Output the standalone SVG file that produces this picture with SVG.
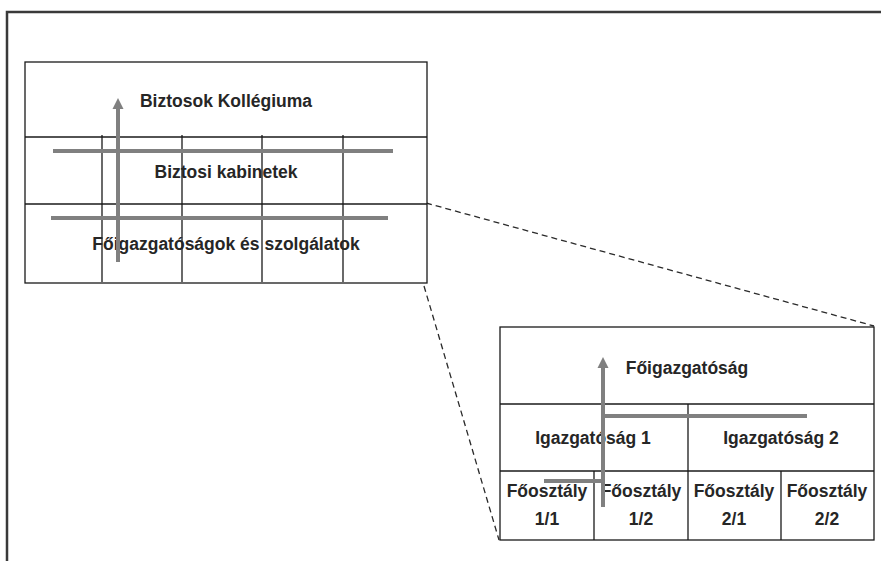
<svg xmlns="http://www.w3.org/2000/svg" width="881" height="561" viewBox="0 0 881 561">
  <defs>
    <marker id="arrow" markerUnits="userSpaceOnUse" markerWidth="12" markerHeight="12" viewBox="0 0 12 12" refX="0" refY="6" orient="auto">
      <path d="M0,0.5 L11,6 L0,11.5 z" fill="#808080"/>
    </marker>
    <style>
      .frame { fill: none; stroke: #3a3a3a; stroke-width: 2.5; }
      .box { fill: #ffffff; stroke: #1a1a1a; stroke-width: 1.3; }
      .grid { stroke: #1a1a1a; stroke-width: 1.3; fill: none; }
      .bar { stroke: #808080; stroke-width: 4; fill: none; }
      .dash { stroke: #2a2a2a; stroke-width: 1.3; stroke-dasharray: 6 4; fill: none; }
      .lbl { font-family: "Liberation Sans", Arial, sans-serif; font-weight: bold; font-size: 17.5px; fill: #262626; text-anchor: middle; }
    </style>
  </defs>

  <rect x="0" y="0" width="881" height="561" fill="#ffffff"/>
  <path class="frame" d="M7,561 V12 H881"/>

  <g id="connectors">
    <line class="dash" x1="426" y1="203" x2="874" y2="326"/>
    <line class="dash" x1="424" y1="286" x2="499" y2="540"/>
  </g>

  <g id="commission">
    <rect class="box" x="25" y="62" width="402" height="221"/>
    <line class="grid" x1="25" y1="137" x2="427" y2="137"/>
    <line class="grid" x1="25" y1="204" x2="427" y2="204"/>
    <line class="grid" x1="102" y1="135" x2="102" y2="282"/>
    <line class="grid" x1="182" y1="135" x2="182" y2="282"/>
    <line class="grid" x1="262" y1="135" x2="262" y2="282"/>
    <line class="grid" x1="343" y1="135" x2="343" y2="282"/>
    <g id="biztosok-kollegiuma">
      <text class="lbl" x="226" y="107">Biztosok Kollégiuma</text>
    </g>
    <g id="biztosi-kabinetek">
      <text class="lbl" x="226" y="178">Biztosi kabinetek</text>
    </g>
    <g id="foigazgatosagok">
      <text class="lbl" x="226" y="250">Főigazgatóságok és szolgálatok</text>
    </g>
    <line class="bar" x1="53" y1="151" x2="393" y2="151"/>
    <line class="bar" x1="51" y1="218" x2="388" y2="218"/>
    <line class="bar" x1="118" y1="262" x2="118" y2="109" marker-end="url(#arrow)"/>
  </g>

  <g id="directorate-general">
    <rect class="box" x="500" y="327" width="374" height="213"/>
    <line class="grid" x1="500" y1="404" x2="874" y2="404"/>
    <line class="grid" x1="500" y1="471" x2="874" y2="471"/>
    <line class="grid" x1="688" y1="404" x2="688" y2="540"/>
    <line class="grid" x1="594" y1="471" x2="594" y2="540"/>
    <line class="grid" x1="781" y1="471" x2="781" y2="540"/>
    <g id="foigazgatosag">
      <text class="lbl" x="687" y="374">Főigazgatóság</text>
    </g>
    <g id="igazgatosag-1">
      <text class="lbl" x="593" y="444">Igazgatóság 1</text>
    </g>
    <g id="igazgatosag-2">
      <text class="lbl" x="781" y="444">Igazgatóság 2</text>
    </g>
    <g id="foosztaly-1-1">
      <text class="lbl" x="547" y="497">Főosztály</text>
      <text class="lbl" x="547" y="525">1/1</text>
    </g>
    <g id="foosztaly-1-2">
      <text class="lbl" x="641" y="497">Főosztály</text>
      <text class="lbl" x="641" y="525">1/2</text>
    </g>
    <g id="foosztaly-2-1">
      <text class="lbl" x="734" y="497">Főosztály</text>
      <text class="lbl" x="734" y="525">2/1</text>
    </g>
    <g id="foosztaly-2-2">
      <text class="lbl" x="827" y="497">Főosztály</text>
      <text class="lbl" x="827" y="525">2/2</text>
    </g>
    <line class="bar" x1="603" y1="416" x2="807" y2="416"/>
    <line class="bar" x1="544" y1="481" x2="605" y2="481"/>
    <line class="bar" x1="603" y1="507" x2="603" y2="368" marker-end="url(#arrow)"/>
  </g>
</svg>
